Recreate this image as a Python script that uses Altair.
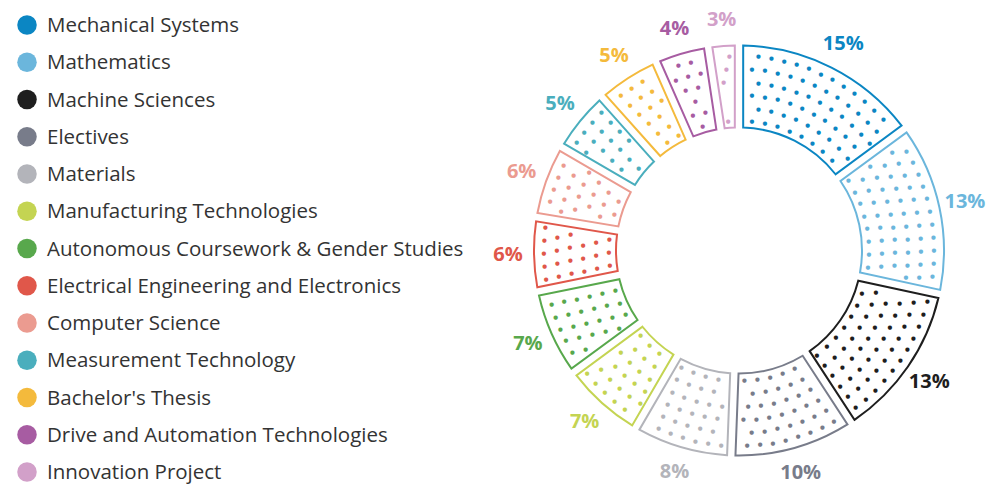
import altair as alt
import pandas as pd

categories = [
    "Mechanical Systems", "Mathematics", "Machine Sciences", "Electives", "Materials",
    "Manufacturing Technologies", "Autonomous Coursework & Gender Studies",
    "Electrical Engineering and Electronics", "Computer Science",
    "Measurement Technology", "Bachelor's Thesis", "Drive and Automation Technologies",
    "Innovation Project",
]
# printed labels (percent)
labels_pct = [15, 13, 13, 10, 8, 7, 7, 6, 6, 5, 5, 4, 3]
shares = [14.9, 13.5, 12.4, 9.8, 7.8, 6.5, 6.9, 5.8, 5.8, 5.0, 5.0, 4.2, 2.4]
colors = [
    "#0b86c3", "#6bb6dc", "#1e1e1e", "#787c8a", "#b3b4ba", "#c4d452", "#58a84c",
    "#e0574a", "#eb9b90", "#4aaebd", "#f4ba3c", "#a75ca2", "#d2a0c9",
]

df = pd.DataFrame({
    "cat": categories, "share": shares, "idx": list(range(len(categories))),
    "label": [f"{p}%" for p in labels_pct],
})
total = sum(shares)

FONT = "Open Sans"
OUTER, INNER = 205, 123
LEFT_PAD = 478          # plot area starts here; ring is centred in it
VIEW_W, VIEW_H = 522, 501

theta_scale = alt.Scale(domain=[0, total])
color_scale = alt.Scale(domain=categories, range=colors)
legend_y = alt.Y("cat:N", sort=categories, axis=None,
                 scale=alt.Scale(type="point", range=[25, 472], padding=0))

base = alt.Chart(df)

arcs = base.mark_arc(
    outerRadius=OUTER, innerRadius=INNER, padAngle=0.035, fill="white",
    strokeWidth=2, strokeJoin="miter",
).encode(
    theta=alt.Theta("share:Q", stack=True, scale=theta_scale),
    stroke=alt.Stroke("cat:N", scale=color_scale, legend=None),
    order=alt.Order("idx:Q"),
)

two_pi = "(2*PI)"
dots = base.transform_window(
    cum="sum(share)", sort=[alt.SortField("idx")], frame=[None, 0]
).transform_calculate(
    start="datum.cum - datum.share", rows="sequence(0, 6)"
).transform_flatten(["rows"], as_=["row"]).transform_calculate(
    r=f"{INNER + 7} + datum.row * 13", cols="sequence(0, 100)"
).transform_flatten(["cols"], as_=["col"]).transform_calculate(
    t=f"(datum.col + (datum.row % 2) * 0.5) * 13 / datum.r * {total} / {two_pi}",
    m=f"8 / datum.r * {total} / {two_pi}",
).transform_filter(
    "datum.t > datum.start + datum.m && datum.t < datum.cum - datum.m"
).mark_text(text="●", font="DejaVu Sans", fontSize=5.5, baseline="middle", align="center").encode(
    theta=alt.Theta("t:Q", stack=None, scale=theta_scale),
    radius=alt.Radius("r:Q", scale=None),
    color=alt.Color("cat:N", scale=color_scale, legend=None),
)

labels = base.mark_text(
    radius=231, font=FONT, fontSize=20, fontWeight="bold", baseline="middle", align="center"
).encode(
    theta=alt.Theta("share:Q", stack=True, scale=theta_scale),
    text="label:N",
    color=alt.Color("cat:N", scale=color_scale, legend=None),
    order=alt.Order("idx:Q"),
)

legend_dots = base.mark_circle(size=380, opacity=1).encode(
    x=alt.value(27 - LEFT_PAD), y=legend_y,
    color=alt.Color("cat:N", scale=color_scale, legend=None),
)

legend_text = base.mark_text(
    align="left", baseline="middle", dy=1, font=FONT, fontSize=20.5, color="#333333",
).encode(
    x=alt.value(47 - LEFT_PAD), y=legend_y, text="cat:N",
)

chart = alt.layer(arcs, dots, labels, legend_dots, legend_text).properties(
    width=VIEW_W, height=VIEW_H,
    padding={"left": LEFT_PAD, "top": 0, "right": 0, "bottom": 0},
    autosize=alt.AutoSizeParams(type="none"),
    background="white",
).configure_view(strokeWidth=0, stroke="transparent")

chart.save("out.html", embed_options={"renderer": "svg", "actions": False})
